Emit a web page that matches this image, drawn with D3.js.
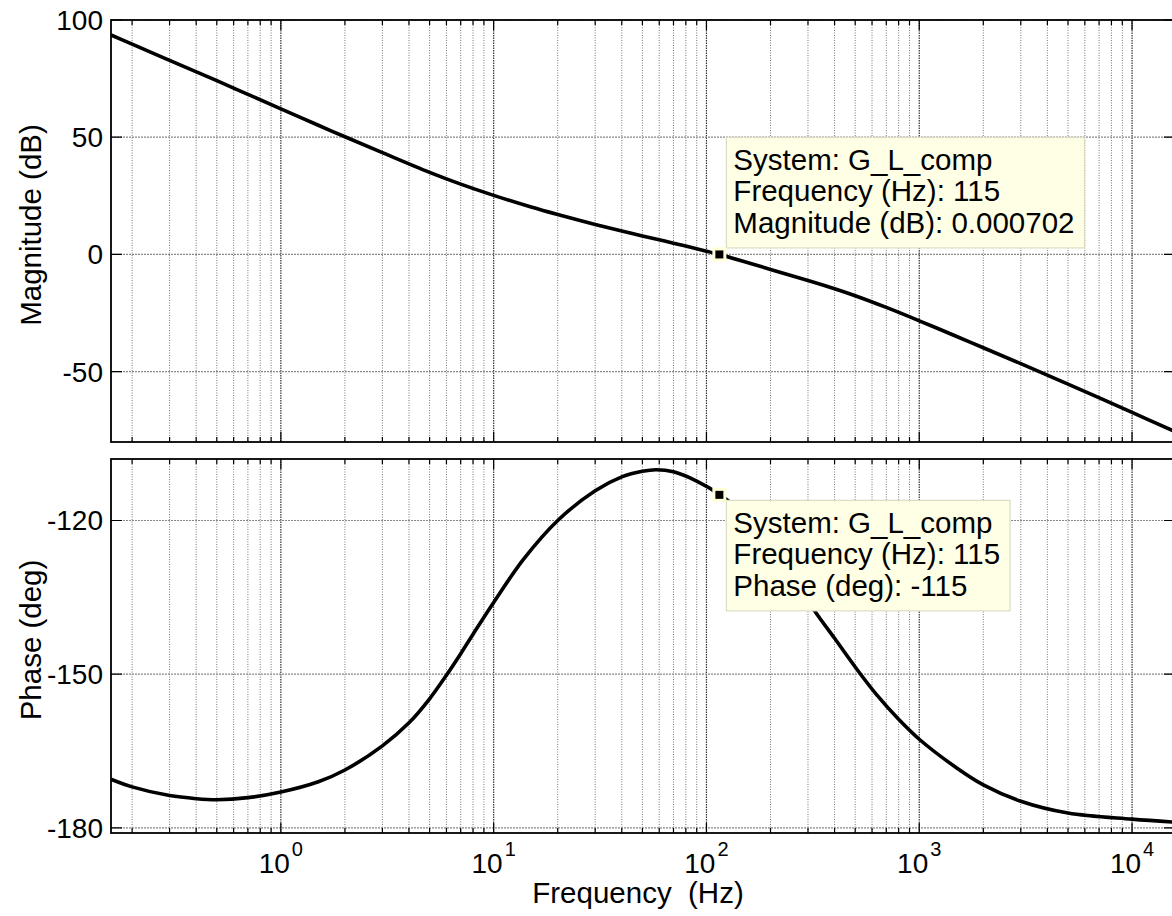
<!DOCTYPE html>
<html><head><meta charset="utf-8">
<script src="https://cdn.jsdelivr.net/npm/d3@7"></script>
<style>
html,body{margin:0;padding:0;background:#fff;overflow:hidden;}
svg text{font-family:"Liberation Sans", Arial, Helvetica, sans-serif; fill:#000;}
</style></head><body>
<svg id="chart" width="1172" height="916"></svg>
<script>
// ---- data ----
const magFreq = [0.159, 0.2, 0.3, 0.5, 0.7, 1, 1.5, 2, 3, 5, 7, 10, 15, 20, 30, 40, 50, 70, 100, 115, 150, 200, 300, 400, 500, 700, 1000, 1500, 2000, 3000, 5000, 10000, 15915];
const magDb   = [93.6, 89.7, 82.8, 74.1, 68.3, 62.1, 55.1, 50.2, 43.4, 35.0, 30.0, 25.2, 20.2, 17.0, 12.8, 10.0, 7.9, 4.8, 1.4, 0.0, -3.0, -6.4, -11.1, -14.6, -17.6, -22.6, -28.3, -35.0, -39.8, -46.6, -55.3, -67.4, -75.6];
const phaseFreq = [0.159, 0.2, 0.3, 0.4, 0.5, 0.7, 1, 1.5, 2, 3, 4, 5, 6, 7, 8, 10, 13.8, 20, 30, 40, 50, 58, 70, 90, 115, 150, 200, 250, 322, 400, 500, 630, 800, 1000, 1500, 2000, 3000, 5000, 10000, 15915];
const phaseDeg  = [-170.5, -172.0, -173.7, -174.3, -174.5, -174.1, -173.0, -171.0, -168.7, -164.0, -159.5, -154.8, -150.2, -146.0, -142.2, -136.0, -127.6, -120.0, -114.2, -111.5, -110.4, -110.1, -110.5, -112.3, -114.9, -118.8, -124.8, -130.6, -137.6, -143.0, -148.6, -154.0, -158.8, -162.7, -168.3, -171.6, -174.8, -177.1, -178.3, -178.9];
const magTicks = [-50, 0, 50, 100];
const phaseTicks = [-180, -150, -120];
const decadeTicks = [1, 10, 100, 1000, 10000];
const decadeExps = ["0", "1", "2", "3", "4"];
const tipFreq = 115, tipMag = 0.000702, tipPhase = -115;
const magTipLines = ["System: G_L_comp", "Frequency (Hz): 115", "Magnitude (dB): 0.000702"];
const phaseTipLines = ["System: G_L_comp", "Frequency (Hz): 115", "Phase (deg): -115"];

// ---- layout ----
const svg = d3.select("#chart");
const X0 = 111, X1 = 1175;
const fMin = 1 / (2 * Math.PI), fMax = 1e5 / (2 * Math.PI);
const x = d3.scaleLog().domain([fMin, fMax]).range([X0, X1]);
const FS = 28, FL = 29.5;

const minorVals = [];
for (let e = -1; e <= 4; e++) for (let k = 1; k <= 9; k++) {
  const v = k * Math.pow(10, e);
  if (v > fMin && v < fMax) minorVals.push({v, major: k === 1});
}

const panels = [
  {top: 20, bottom: 442, domain: [-80, 100], ticks: magTicks, freq: magFreq, vals: magDb,
   label: "Magnitude (dB)", tipVal: tipMag, lines: magTipLines, above: true},
  {top: 459, bottom: 833, domain: [-181, -108], ticks: phaseTicks, freq: phaseFreq, vals: phaseDeg,
   label: "Phase (deg)", tipVal: tipPhase, lines: phaseTipLines, above: false}
];

panels.forEach((p, i) => {
  const y = d3.scaleLinear().domain(p.domain).range([p.bottom, p.top]);
  const g = svg.append("g");
  const clipId = "clip" + i;
  svg.append("clipPath").attr("id", clipId).append("rect")
    .attr("x", X0).attr("y", p.top).attr("width", X1 - X0).attr("height", p.bottom - p.top);

  // vertical grid
  g.selectAll(".vg").data(minorVals).join("line")
    .attr("x1", d => x(d.v)).attr("x2", d => x(d.v))
    .attr("y1", p.top).attr("y2", p.bottom)
    .attr("stroke", d => d.major ? "#333" : "#777")
    .attr("stroke-width", d => d.major ? 1.2 : 1)
    .attr("stroke-dasharray", d => d.major ? "1.5,1" : "1,1.5");
  // horizontal grid
  g.selectAll(".hg").data(p.ticks).join("line")
    .attr("x1", X0).attr("x2", X1)
    .attr("y1", d => y(d)).attr("y2", d => y(d))
    .attr("stroke", "#888").attr("stroke-width", 1.2)
    .attr("stroke-dasharray", "2,1");

  // curve
  const pts = p.freq.map((f, j) => [f, p.vals[j]]);
  g.append("path").datum(pts)
    .attr("clip-path", `url(#${clipId})`)
    .attr("fill", "none").attr("stroke", "#000").attr("stroke-width", 3.6)
    .attr("stroke-linejoin", "round")
    .attr("d", d3.line().x(d => x(d[0])).y(d => y(d[1])).curve(d3.curveCatmullRom.alpha(0.5)));

  // ticks: y (left & right)
  g.selectAll(".yt").data(p.ticks).join("path")
    .attr("d", d => `M${X0},${y(d)}h11M${X1},${y(d)}h-11`)
    .attr("stroke", "#000").attr("stroke-width", 1.2);
  // ticks: x (top & bottom)
  g.selectAll(".xt").data(minorVals).join("path")
    .attr("d", d => { const L = d.major ? 10 : 5; const xx = x(d.v);
      return `M${xx},${p.bottom}v${-L}M${xx},${p.top}v${L}`; })
    .attr("stroke", "#000").attr("stroke-width", 1.2);

  // box
  g.append("rect").attr("x", X0).attr("y", p.top).attr("width", X1 - X0).attr("height", p.bottom - p.top)
    .attr("fill", "none").attr("stroke", "#000").attr("stroke-width", 1.8);

  // y tick labels
  g.selectAll(".yl").data(p.ticks).join("text")
    .attr("x", 103).attr("y", d => y(d) + 10)
    .attr("text-anchor", "end").attr("font-size", FS)
    .text(d => d);

  // y label
  g.append("text")
    .attr("transform", `translate(41,${(p.top + p.bottom) / 2 - 6}) rotate(-90)`)
    .attr("text-anchor", "middle").attr("font-size", FL)
    .text(p.label);

  // data tip
  const mx = x(tipFreq), my = y(p.tipVal);
  const tg = svg.append("g");
  const boxX = mx + 7;
  const boxY = p.above ? my - 117 : my + 5.5;
  const rect = tg.append("rect").attr("x", boxX).attr("y", boxY).attr("height", 110.5)
    .attr("fill", "#ffffe6").attr("stroke", "#dcdcc4").attr("stroke-width", 1.2);
  let maxW = 0;
  p.lines.forEach((t, k) => {
    const tx = tg.append("text").attr("x", boxX + 7).attr("y", boxY + 32.5 + k * 31.5)
      .attr("font-size", FL).text(t);
    maxW = Math.max(maxW, tx.node().getComputedTextLength());
  });
  rect.attr("width", maxW + 17);
  tg.append("rect").attr("x", mx - 5.5).attr("y", my - 5.5).attr("width", 11).attr("height", 11)
    .attr("fill", "#000").attr("stroke", "#ffffd8").attr("stroke-width", 3);
});

// x tick labels (bottom panel only)
const xl = svg.selectAll(".xtl").data(decadeTicks).join("text")
  .attr("x", d => x(d)).attr("y", 873).attr("text-anchor", "middle").attr("font-size", FS);
xl.append("tspan").text("10");
xl.append("tspan").attr("font-size", 20).attr("dx", 2).attr("dy", -17).text((d, i) => decadeExps[i]);

// x label
svg.append("text").attr("x", 638).attr("y", 903).attr("text-anchor", "middle")
  .attr("font-size", FL).style("white-space", "pre").text("Frequency  (Hz)");
</script>
</body></html>
